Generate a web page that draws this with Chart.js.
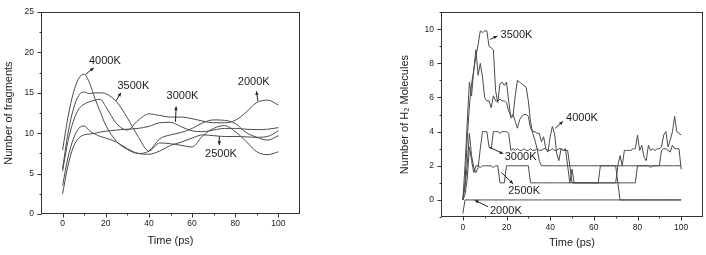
<!DOCTYPE html>
<html>
<head>
<meta charset="utf-8">
<script src="https://cdn.jsdelivr.net/npm/chart.js@4.4.0/dist/chart.umd.min.js"></script>
<style>
  html, body { margin: 0; padding: 0; background: #fff; }
  #wrap { position: relative; width: 706px; height: 255px; overflow: hidden; }
  canvas { position: absolute; top: 0; }
  #fragChart { left: 0; }
  #h2Chart { left: 350px; }
</style>
</head>
<body>
<div id="wrap">
  <canvas id="fragChart" width="350" height="255"></canvas>
  <canvas id="h2Chart" width="356" height="255"></canvas>
</div>
<script>
// ---------- left panel: number of fragments ----------
const fragTime = [0, 2.5, 5, 7.5, 10, 12.5, 15, 17.5, 20, 25, 30, 35, 40, 45, 50, 55, 60, 65, 70, 75, 80, 85, 90, 95, 100];
const frag4000 = [7.9, 12.0, 15.0, 16.8, 17.3, 16.2, 14.3, 12.6, 11.0, 9.0, 8.0, 7.5, 7.8, 9.3, 9.8, 10.1, 10.6, 11.3, 11.65, 11.6, 11.2, 10.1, 9.5, 9.15, 9.7];
const frag3500 = [5.6, 10.0, 13.0, 14.7, 15.1, 14.9, 15.0, 15.0, 14.9, 13.9, 11.9, 9.6, 7.8, 8.8, 8.7, 8.5, 8.3, 9.7, 10.6, 10.95, 10.2, 9.0, 7.7, 7.35, 7.7];
const frag3000 = [2.5, 6.0, 8.3, 9.4, 9.8, 9.9, 10.0, 10.15, 10.25, 10.4, 10.5, 10.6, 10.85, 11.3, 11.35, 10.8, 10.3, 10.2, 10.4, 10.6, 10.6, 10.5, 10.45, 10.5, 10.7];
const frag2500 = [3.5, 7.0, 9.3, 10.6, 10.9, 10.3, 9.9, 9.6, 9.4, 8.9, 8.1, 7.5, 7.4, 7.8, 8.5, 8.9, 9.4, 9.8, 9.7, 9.6, 9.6, 9.55, 9.5, 9.6, 10.3];
const frag2000 = [5.3, 9.0, 11.5, 13.0, 13.6, 13.9, 14.1, 14.2, 13.3, 11.2, 10.4, 11.6, 12.4, 12.2, 12.0, 12.0, 11.8, 11.5, 11.3, 11.3, 11.6, 12.6, 13.8, 14.1, 13.5];
const fragXTicks = [0, 20, 40, 60, 80, 100];
const fragXMinor = [10, 30, 50, 70, 90];
const fragYTicks = [0, 5, 10, 15, 20, 25];
const fragYMinor = [2.5, 7.5, 12.5, 17.5, 22.5];

// ---------- right panel: number of H2 molecules ----------
const h2Time = [
  0, 1, 2, 3, 4, 5, 6, 7, 8, 9,
  10, 11, 12, 13, 14, 15, 16, 17, 18, 19,
  20, 21, 22, 23, 24, 25, 26, 27, 28, 29,
  30, 31, 32, 33, 34, 35, 36, 37, 38, 39,
  40, 41, 42, 43, 44, 45, 46, 47, 48, 49,
  50, 51, 52, 53, 54, 55, 56, 57, 58, 59,
  60, 61, 62, 63, 64, 65, 66, 67, 68, 69,
  70, 71, 72, 73, 74, 75, 76, 77, 78, 79,
  80, 81, 82, 83, 84, 85, 86, 87, 88, 89,
  90, 91, 92, 93, 94, 95, 96, 97, 98, 99,
  100
];
const h2_4000 = [
  0, 2.0, 4.5, 6.9, 6.1, 7.6, 8.8, 7.3, 8.0, 7.2,
  6.0, 5.8, 5.8, 5.4, 6.1, 5.8, 5.8, 5.9, 5.8, 5.8,
  5.7, 5.2, 4.9, 5.0, 4.6, 4.2, 4.7, 4.9, 5.0, 5.0,
  4.9, 4.2, 4.0, 4.0, 3.9, 3.9, 3.4, 3.7, 3.0, 2.8,
  3.7, 4.3, 3.9, 2.7, 2.3, 3.0, 2.9, 3.0, 2.0, 1.0,
  1.8, 1.0, 1.0, 1.0, 1.0, 1.0, 1.0, 1.0, 1.0, 1.0,
  1.0, 1.0, 1.0, 1.0, 1.0, 1.0, 1.0, 1.0, 1.0, 1.0,
  1.0, 2.0, 2.6, 2.0, 2.9, 2.9, 2.9, 2.9, 3.0, 3.0,
  3.8, 2.9, 3.2, 2.5, 2.3, 3.2, 2.9, 3.0, 2.9, 3.0,
  3.0, 3.1, 3.8, 4.0, 3.1, 3.5, 4.0, 4.9, 4.0, 3.9,
  3.8
];
const h2_3500 = [
  0, 1.0, 3.5, 5.5, 6.8, 7.6, 8.4, 9.1, 9.9, 9.8,
  9.9, 9.9, 9.0, 8.9, 8.8, 6.4, 5.7, 6.8, 6.9, 6.7,
  6.9, 5.8, 4.8, 4.9, 6.1, 7.0, 6.9, 6.8, 6.7, 6.6,
  5.8, 4.6, 3.9, 3.5, 3.0, 2.3, 2.0, 2.0, 2.0, 2.0,
  2.0, 2.0, 2.0, 2.0, 2.0, 2.0, 2.0, 2.0, 2.0, 2.0,
  2.0, 2.0, 2.0, 2.0, 2.0, 2.0, 2.0, 2.0, 2.0, 2.0,
  2.0, 2.0, 2.0, 2.0, 2.0, 2.0, 2.0, 2.0, 2.0, 2.0,
  2.0, 2.0, 2.0, 2.0, 2.0, 2.0, 2.0, 2.0, 2.0, 2.0,
  2.0, 2.0, 2.0, 2.0, 2.0, 2.0, 2.0, 2.0, 2.0, 2.0,
  2.0, 2.0, 2.0, 2.0, 2.0, 2.0, 2.0, 2.0, 2.0, 2.0,
  2.0
];
const h2_3000 = [
  0, 0.8, 2.0, 3.9, 2.6, 1.9, 1.6, 1.9, 3.0, 4.0,
  4.0, 4.0, 3.1, 3.0, 4.0, 4.0, 4.0, 3.9, 4.0, 4.0,
  4.0, 3.9, 2.9, 3.0, 2.9, 3.0, 2.9, 2.9, 3.0, 2.9,
  2.9, 3.0, 2.9, 2.9, 3.0, 2.9, 2.9, 3.0, 3.0, 2.9,
  2.9, 3.0, 2.9, 2.9, 3.0, 3.0, 2.9, 2.9, 2.9, 2.0,
  1.0, 1.0, 1.0, 1.0, 1.0, 1.0, 1.0, 1.0, 1.0, 1.0,
  1.0, 1.0, 1.0, 2.0, 2.0, 2.0, 2.0, 2.0, 2.0, 2.0,
  2.0, 1.0, 1.0, 1.0, 1.0, 1.0, 1.0, 1.0, 1.0, 1.0,
  2.0, 2.0, 2.0, 2.0, 2.0, 2.0, 1.9, 2.0, 2.0, 2.0,
  2.0, 2.9, 3.0, 3.0, 2.9, 2.8, 3.2, 3.0, 3.0, 3.0,
  1.8
];
const h2_2500 = [
  0, 0.3, 1.2, 3.1, 2.3, 1.6, 2.0, 2.0, 1.9, 2.0,
  2.0, 2.0, 2.0, 2.0, 1.9, 2.0, 2.0, 1.0, 1.0, 1.0,
  2.0, 2.0, 2.0, 2.0, 2.0, 2.0, 2.0, 2.0, 2.0, 2.0,
  2.0, 1.0, 1.0, 1.0, 1.0, 1.0, 1.0, 1.0, 1.0, 1.0,
  1.0, 1.0, 1.0, 1.0, 1.0, 1.0, 1.0, 1.0, 1.0, 1.0,
  1.0, 1.0, 1.0, 1.0, 1.0, 1.0, 1.0, 1.0, 1.0, 1.0,
  1.0, 1.0, 1.0, 1.0, 1.0, 1.0, 1.0, 1.0, 1.0, 1.0,
  1.0, 1.0, 0, 0, 0, 0, 0, 0, 0, 0,
  0, 0, 0, 0, 0, 0, 0, 0, 0, 0,
  0, 0, 0, 0, 0, 0, 0, 0, 0, 0,
  0
];
const h2_2000 = [
  -0.8, 0, 0, 0, 0, 0, 0, 0, 0, 0,
  0, 0, 0, 0, 0, 0, 0, 0, 0, 0,
  0, 0, 0, 0, 0, 0, 0, 0, 0, 0,
  0, 0, 0, 0, 0, 0, 0, 0, 0, 0,
  0, 0, 0, 0, 0, 0, 0, 0, 0, 0,
  0, 0, 0, 0, 0, 0, 0, 0, 0, 0,
  0, 0, 0, 0, 0, 0, 0, 0, 0, 0,
  0, 0, 0, 0, 0, 0, 0, 0, 0, 0,
  0, 0, 0, 0, 0, 0, 0, 0, 0, 0,
  0, 0, 0, 0, 0, 0, 0, 0, 0, 0,
  0
];
const h2XTicks = [0, 20, 40, 60, 80, 100];
const h2XMinor = [10, 30, 50, 70, 90];
const h2YTicks = [0, 2, 4, 6, 8, 10];
const h2YMinor = [-1, 1, 3, 5, 7, 9, 11];

// in-plot temperature labels (data units): text start, arrow tail, arrow head
const fragNotes = [
  { text: '4000K', at: [12.2, 19.0], from: [10.7, 17.3], to: [14.4, 18.1] },
  { text: '3500K', at: [25.4, 15.8], from: [24.7, 14.0], to: [27.0, 15.0] },
  { text: '3000K', at: [48.2, 14.6], from: [52.3, 11.4], to: [52.6, 13.3] },
  { text: '2000K', at: [81.2, 16.4], from: [90.5, 14.0], to: [89.8, 15.2] },
  { text: '2500K', at: [66.0, 7.45], from: [72.6, 9.6], to: [72.6, 8.55] }
];
const h2Notes = [
  { text: '3500K', at: [17.3, 9.66], from: [12.4, 9.4], to: [15.8, 9.6] },
  { text: '4000K', at: [47.3, 4.8], from: [42.3, 4.2], to: [45.8, 4.6] },
  { text: '3000K', at: [19.2, 2.5], from: [12.0, 3.1], to: [18.5, 2.7] },
  { text: '2500K', at: [20.8, 0.5], from: [17.7, 1.6], to: [23.0, 0.95] },
  { text: '2000K', at: [12.4, -0.62], from: [11.6, -0.4], to: [5.5, -0.02] }
];

Chart.defaults.font.family = 'Arial, "Liberation Sans", sans-serif';
Chart.defaults.color = '#222';

const toPoints = (xs, ys) => xs.map((x, i) => ({ x: x, y: ys[i] }));

// frame, outward ticks, labels with arrows
const framePlugin = {
  id: 'frameTicks',
  afterDraw(chart, args, opts) {
    const { ctx, chartArea: a } = chart;
    const xs = chart.scales.x, ys = chart.scales.y;
    ctx.save();
    ctx.strokeStyle = '#333';
    ctx.lineWidth = 1;
    const L = Math.round(a.left) + 0.5, R = Math.round(a.right) - 0.5;
    const T = Math.round(a.top) + 0.5, B = Math.round(a.bottom) - 0.5;
    ctx.strokeRect(L, T, R - L, B - T);
    ctx.beginPath();
    const xTick = (v, len) => {
      const px = Math.round(xs.getPixelForValue(v)) + 0.5;
      ctx.moveTo(px, B); ctx.lineTo(px, B + len);
    };
    const yTick = (v, len) => {
      const py = Math.round(ys.getPixelForValue(v)) + 0.5;
      ctx.moveTo(L, py); ctx.lineTo(L - len, py);
    };
    opts.xMajor.forEach(v => xTick(v, 4));
    opts.xMinor.forEach(v => xTick(v, 2));
    opts.yMajor.forEach(v => yTick(v, 4));
    opts.yMinor.forEach(v => yTick(v, 2));
    ctx.stroke();

    ctx.font = '11px Arial, "Liberation Sans", sans-serif';
    ctx.fillStyle = '#222';
    ctx.textBaseline = 'middle';
    ctx.textAlign = 'left';
    opts.notes.forEach(n => {
      ctx.fillText(n.text, xs.getPixelForValue(n.at[0]), ys.getPixelForValue(n.at[1]));
      const x0 = xs.getPixelForValue(n.from[0]), y0 = ys.getPixelForValue(n.from[1]);
      const x1 = xs.getPixelForValue(n.to[0]), y1 = ys.getPixelForValue(n.to[1]);
      ctx.strokeStyle = '#222';
      ctx.beginPath();
      ctx.moveTo(x0, y0); ctx.lineTo(x1, y1);
      ctx.stroke();
      const ang = Math.atan2(y1 - y0, x1 - x0);
      ctx.beginPath();
      ctx.moveTo(x1, y1);
      ctx.lineTo(x1 - 4 * Math.cos(ang - 0.45), y1 - 4 * Math.sin(ang - 0.45));
      ctx.lineTo(x1 - 4 * Math.cos(ang + 0.45), y1 - 4 * Math.sin(ang + 0.45));
      ctx.closePath();
      ctx.fill();
    });
    ctx.restore();
  }
};

function lineSet(xs, ys, smooth) {
  return {
    data: toPoints(xs, ys),
    borderColor: '#4a4a4a',
    borderWidth: 1,
    pointRadius: 0,
    fill: false,
    tension: smooth ? 0.4 : 0,
    cubicInterpolationMode: smooth ? 'monotone' : 'default'
  };
}

function axes(cfg) {
  return {
    x: {
      type: 'linear', min: -10, max: 110,
      afterBuildTicks: s => { s.ticks = cfg.xTicks.map(v => ({ value: v })); },
      afterFit: s => { s.height = cfg.xHeight; },
      grid: { display: false, drawTicks: false },
      border: { display: false },
      ticks: { padding: cfg.xPad, font: { size: 8.5 }, color: '#222' },
      title: { display: true, text: 'Time (ps)', font: { size: 11 }, color: '#222', padding: { top: 0, bottom: cfg.xTitlePad } }
    },
    y: {
      type: 'linear', min: cfg.yMin, max: cfg.yMax,
      afterBuildTicks: s => { s.ticks = cfg.yTicks.map(v => ({ value: v })); },
      afterFit: s => { s.width = cfg.yWidth; },
      grid: { display: false, drawTicks: false },
      border: { display: false },
      ticks: { padding: cfg.yPad, font: { size: 8.5 }, color: '#222' },
      title: { display: true, text: cfg.yTitle, font: { size: 11 }, color: '#222', padding: { top: cfg.yTitlePad, bottom: 0 } }
    }
  };
}

const commonPlugins = { legend: { display: false }, tooltip: { enabled: false } };

new Chart(document.getElementById('fragChart'), {
  type: 'line',
  data: {
    datasets: [
      lineSet(fragTime, frag4000, true),
      lineSet(fragTime, frag3500, true),
      lineSet(fragTime, frag3000, true),
      lineSet(fragTime, frag2500, true),
      lineSet(fragTime, frag2000, true)
    ]
  },
  options: {
    responsive: false,
    animation: false,
    devicePixelRatio: 1,
    layout: { padding: { left: 0, right: 50, top: 5, bottom: 0 } },
    scales: axes({
      xTicks: fragXTicks, yTicks: fragYTicks, yMin: 0, yMax: 25,
      xHeight: 41, yWidth: 41, xPad: 5, yPad: 7, xTitlePad: 7.4, yTitlePad: 2.4,
      yTitle: 'Number of fragments'
    }),
    plugins: Object.assign({}, commonPlugins, {
      frameTicks: { xMajor: fragXTicks, xMinor: fragXMinor, yMajor: fragYTicks, yMinor: fragYMinor, notes: fragNotes }
    })
  },
  plugins: [framePlugin]
});

new Chart(document.getElementById('h2Chart'), {
  type: 'line',
  data: {
    datasets: [
      lineSet(h2Time, h2_2000, false),
      lineSet(h2Time, h2_2500, false),
      lineSet(h2Time, h2_3000, false),
      lineSet(h2Time, h2_3500, false),
      lineSet(h2Time, h2_4000, false)
    ]
  },
  options: {
    responsive: false,
    animation: false,
    devicePixelRatio: 1,
    layout: { padding: { left: 0, right: 3, top: 4, bottom: 0 } },
    scales: axes({
      xTicks: h2XTicks, yTicks: h2YTicks, yMin: -1, yMax: 11,
      xHeight: 38, yWidth: 91, xPad: 6, yPad: 7, xTitlePad: 5.1, yTitlePad: 48.4,
      yTitle: 'Number of H\u2082 Molecules'
    }),
    plugins: Object.assign({}, commonPlugins, {
      frameTicks: { xMajor: h2XTicks, xMinor: h2XMinor, yMajor: h2YTicks, yMinor: h2YMinor, notes: h2Notes }
    })
  },
  plugins: [framePlugin]
});
</script>
</body>
</html>
